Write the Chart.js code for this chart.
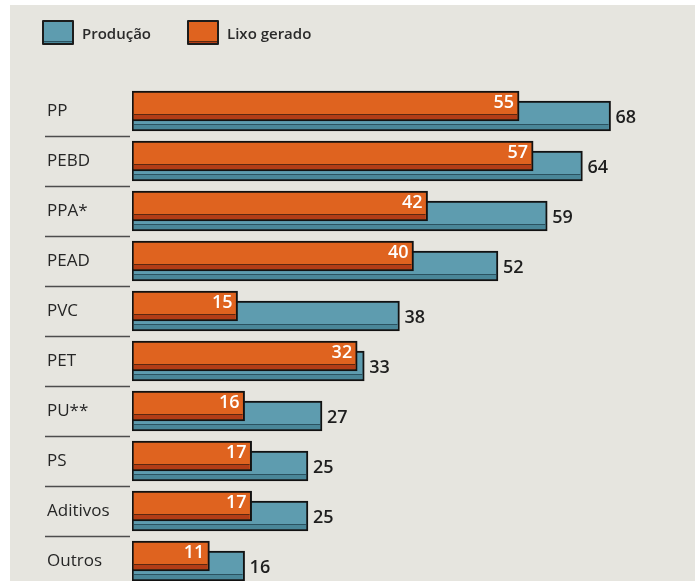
<!DOCTYPE html>
<html lang="pt">
<head>
    <meta charset="UTF-8">
    <title>Produção e lixo gerado por tipo de plástico</title>
    <script src="https://cdn.jsdelivr.net/npm/chart.js"></script>
    <style>
        body { margin: 0; background: #ffffff; font-family: "Open Sans", sans-serif; }
        #wrap {
            position: absolute; left: 10px; top: 5px;
            width: 685px; height: 576px;
            background: #E6E5DF;
        }
        #legend {
            position: absolute; left: 32px; top: 15px;
            display: flex; align-items: center;
        }
        .item { display: flex; align-items: center; margin-right: 36px; }
        .box {
            width: 28px; height: 21px;
            border: 2px solid #1c1c1c;
            border-radius: 1px;
        }
        .item span {
            margin-left: 8px;
            font-size: 15px; font-weight: 600; color: #2a2a2a;
        }
    </style>
</head>
<body>
    <div id="wrap">
        <div id="legend"></div>
        <canvas id="chart"></canvas>
    </div>

    <script>
        // values (milhões de toneladas)
        const categories = ["PP", "PEBD", "PPA*", "PEAD", "PVC", "PET", "PU**", "PS", "Aditivos", "Outros"];
        const producao = [68, 64, 59, 52, 38, 33, 27, 25, 25, 16];
        const lixo = [55, 57, 42, 40, 15, 32, 16, 17, 17, 11];

        const blue = "#5E9CAF", blueStripe = "#4A8698", blueLine = "#2B5260";
        const orange = "#DF631F", orangeStripe = "#B23D17", orangeLine = "#5C2810";

        // bars sit on a numeric axis so the two series can overlap with a small shift
        const shift = 0.1;

        // darker strip along the bottom of every bar
        const stripes = {
            id: "stripes",
            afterDatasetDraw(chart, args) {
                const ds = chart.data.datasets[args.index];
                const ctx = chart.ctx;
                ctx.save();
                args.meta.data.forEach(bar => {
                    const p = bar.getProps(["x", "y", "base", "height"], true);
                    const left = Math.min(p.x, p.base) + 2, right = Math.max(p.x, p.base) - 2;
                    const bottom = p.y + p.height / 2 - 2;
                    ctx.fillStyle = ds.stripeColor;
                    ctx.fillRect(left, bottom - 4, right - left, 4);
                    ctx.fillStyle = ds.lineColor;
                    ctx.fillRect(left, bottom - 5, right - left, 1);
                });
                ctx.restore();
            }
        };

        // row separators beside the category names + value labels
        const extras = {
            id: "extras",
            beforeDatasetsDraw(chart) {
                const ctx = chart.ctx, y = chart.scales.y;
                ctx.save();
                ctx.strokeStyle = "#4d4d4d";
                ctx.lineWidth = 1.5;
                for (let i = 0; i < categories.length - 1; i++) {
                    const py = Math.round(y.getPixelForValue(i + 0.5)) + 0.5;
                    ctx.beginPath();
                    ctx.moveTo(35, py);
                    ctx.lineTo(chart.chartArea.left - 2, py);
                    ctx.stroke();
                }
                ctx.restore();
            },
            afterDatasetsDraw(chart) {
                const ctx = chart.ctx;
                ctx.save();
                ctx.font = "600 18px 'Open Sans'";
                ctx.textBaseline = "middle";
                chart.getDatasetMeta(0).data.forEach((bar, i) => {
                    ctx.fillStyle = "#1e1e1e";
                    ctx.textAlign = "left";
                    ctx.fillText(producao[i], bar.x + 5, bar.y + 2);
                });
                chart.getDatasetMeta(1).data.forEach((bar, i) => {
                    ctx.fillStyle = "#ffffff";
                    ctx.textAlign = "right";
                    ctx.fillText(lixo[i], bar.x - 5, bar.y - 3);
                });
                ctx.restore();
            }
        };

        // legend as html, built from the datasets
        const htmlLegend = {
            id: "htmlLegend",
            afterUpdate(chart) {
                const box = document.getElementById("legend");
                box.innerHTML = "";
                chart.data.datasets.forEach(ds => {
                    const item = document.createElement("div");
                    item.className = "item";
                    const sw = document.createElement("div");
                    sw.className = "box";
                    sw.style.background = ds.backgroundColor;
                    sw.style.boxShadow = "inset 0 -1px 0 " + ds.stripeColor + ", inset 0 -2px 0 " + ds.lineColor;
                    const txt = document.createElement("span");
                    txt.textContent = ds.label;
                    item.appendChild(sw);
                    item.appendChild(txt);
                    box.appendChild(item);
                });
            }
        };

        new Chart(document.getElementById("chart"), {
            type: "bar",
            data: {
                datasets: [
                    {
                        label: "Produção",
                        data: producao.map((v, i) => ({ x: v, y: i + shift })),
                        backgroundColor: blue,
                        stripeColor: blueStripe,
                        lineColor: blueLine,
                        order: 1
                    },
                    {
                        label: "Lixo gerado",
                        data: lixo.map((v, i) => ({ x: v, y: i - shift })),
                        backgroundColor: orange,
                        stripeColor: orangeStripe,
                        lineColor: orangeLine,
                        order: 0
                    }
                ]
            },
            options: {
                indexAxis: "y",
                responsive: true,
                maintainAspectRatio: false,
                animation: false,
                layout: { padding: { top: 81, left: 37, right: 0, bottom: 0 } },
                datasets: {
                    bar: {
                        grouped: false,
                        barThickness: 30,
                        borderColor: "#121212",
                        borderWidth: 2,
                        borderSkipped: false
                    }
                },
                plugins: {
                    legend: { display: false },
                    tooltip: { enabled: false }
                },
                scales: {
                    x: { type: "linear", min: 0, max: 80, display: false },
                    y: {
                        type: "linear",
                        reverse: true,
                        offset: false,
                        min: -0.5,
                        max: 9.4,
                        afterFit(scale) {
                            scale.width = 85;
                            scale.paddingTop = 0;
                            scale.paddingBottom = 0;
                        },
                        grid: { display: false, offset: false },
                        border: { display: false },
                        ticks: {
                            stepSize: 1,
                            includeBounds: false,
                            crossAlign: "far",
                            color: "#262626",
                            font: { family: "'Open Sans'", size: 17 },
                            callback: v => Number.isInteger(v) ? categories[v] : ""
                        }
                    }
                }
            },
            plugins: [stripes, extras, htmlLegend]
        });
    </script>
</body>
</html>
